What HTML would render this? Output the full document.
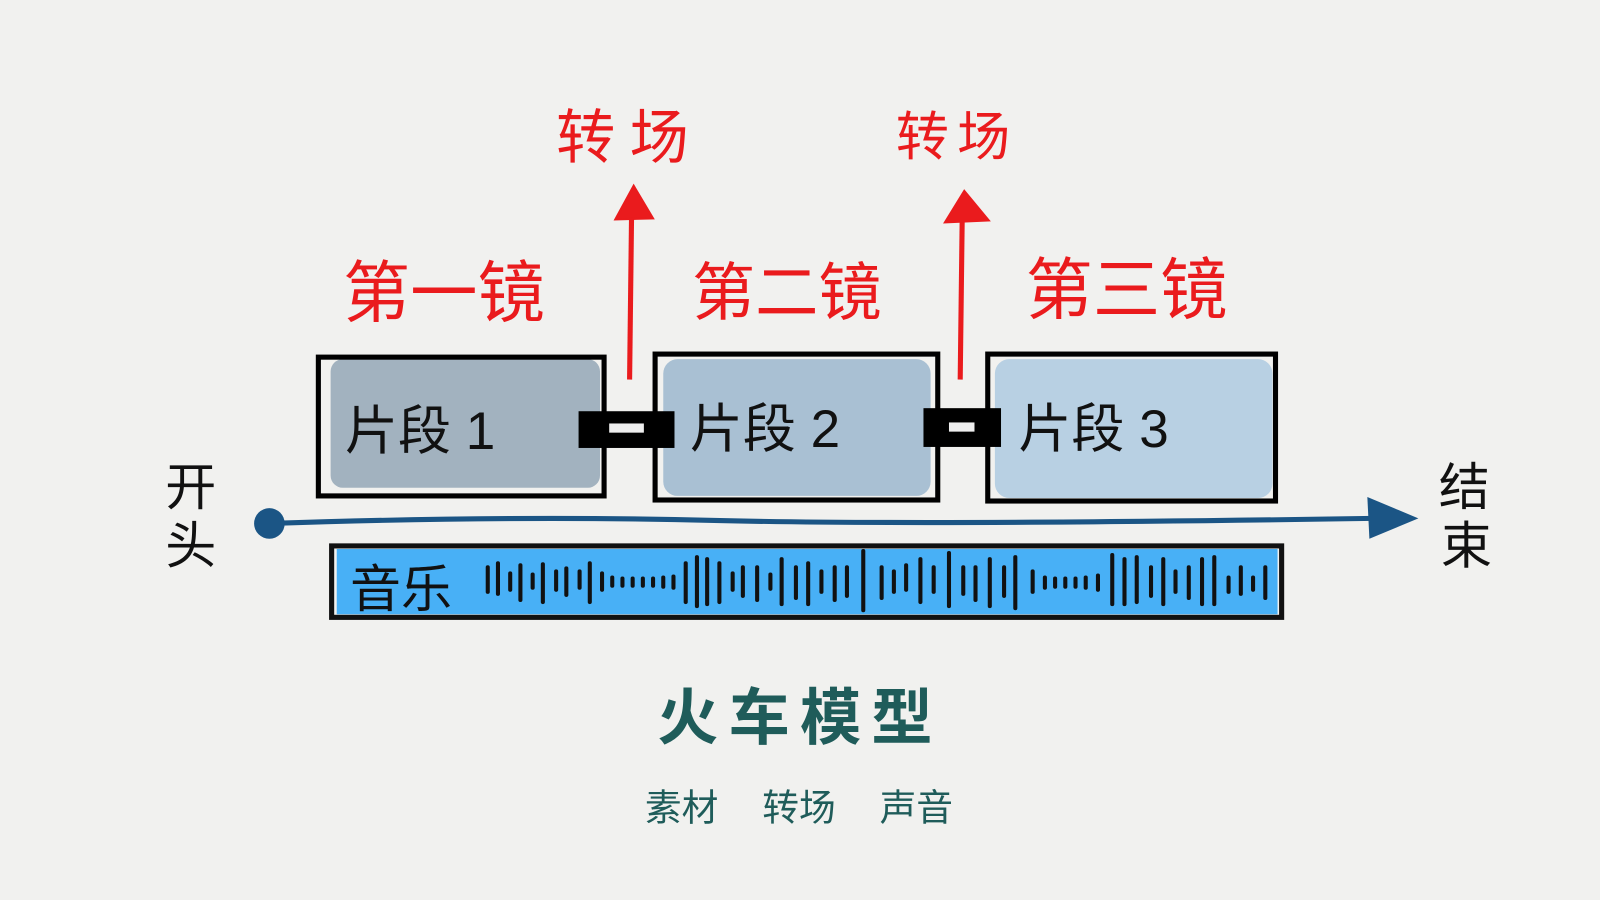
<!DOCTYPE html>
<html><head><meta charset="utf-8"><style>
html,body{margin:0;padding:0;background:#f1f1ef;}
svg{display:block}
text{font-family:"Liberation Sans","Noto Sans CJK SC",sans-serif;}
</style></head><body>
<svg width="1600" height="900" viewBox="0 0 1568 882" preserveAspectRatio="none" xmlns="http://www.w3.org/2000/svg">
<rect width="1568" height="882" fill="#f1f1ef"/>
<g stroke="#ea1b1d" stroke-width="5" fill="#ea1b1d">
<line x1="617" y1="372" x2="619" y2="205"/>
<polygon points="603,215 621,182 640,214" stroke-width="2"/>
<line x1="941" y1="372" x2="943" y2="210"/>
<polygon points="926,218 945,187 969,216" stroke-width="2"/>
</g>
<g fill="#ea1b1d">
<text x="545" y="155" font-size="58" letter-spacing="14">转场</text>
<text x="878" y="152" font-size="52" letter-spacing="8">转场</text>
<text x="336" y="310" font-size="66">第一镜</text>
<text x="678" y="308" font-size="62">第二镜</text>
<text x="1005" y="307" font-size="66">第三镜</text>
</g>
<rect x="324" y="352" width="264" height="126" rx="12" fill="#a2b2bf"/>
<rect x="312" y="350" width="280" height="136" fill="none" stroke="#000" stroke-width="5"/>
<rect x="650" y="352" width="262" height="134" rx="14" fill="#a9c0d3"/>
<rect x="642" y="347" width="277" height="143" fill="none" stroke="#000" stroke-width="5"/>
<rect x="975" y="352" width="272" height="136" rx="14" fill="#b8d0e3"/>
<rect x="968" y="347" width="282" height="144" fill="none" stroke="#000" stroke-width="5"/>
<rect x="567" y="403" width="94" height="36" fill="#000"/>
<rect x="597" y="415" width="34" height="9" fill="#eee"/>
<rect x="905" y="400" width="76" height="38" fill="#000"/>
<rect x="930" y="414" width="25" height="9" fill="#eee"/>
<g font-size="52" fill="#111">
<text x="338" y="440">片段 1</text>
<text x="676" y="438">片段 2</text>
<text x="998" y="438">片段 3</text>
</g>
<path d="M265,513 Q500,505 700,510 T1345,508" stroke="#1b5585" stroke-width="5" fill="none"/>
<circle cx="264" cy="513" r="15" fill="#1b5585"/>
<polygon points="1340,487 1390,508 1342,528" fill="#1b5585"/>
<g font-size="50" fill="#111">
<text x="162" y="495">开</text><text x="162" y="552">头</text>
<text x="1410" y="495">结</text><text x="1412" y="552">束</text>
</g>
<rect x="330" y="538" width="922" height="64" fill="#48b0f6"/>
<rect x="325" y="535" width="931" height="70" fill="none" stroke="#111" stroke-width="5"/>
<text x="343" y="595" font-size="50" fill="#111">音乐</text>
<path stroke="#111" stroke-width="4" fill="none" stroke-linecap="round" d="
M478,556V580 M488,552V582 M500,562V578 M510,554V588 M522,563V576 M532,553V590 M545,560V578 M555,557V583 M568,560V576 M578,552V590
M590,562V578 M600,566V574 M610,567V574 M620,567V574 M630,567V574 M640,567V574 M650,566V575 M660,565V576
M672,552V590 M683,546V594 M693,548V592 M705,552V590 M718,562V578 M728,556V584 M742,556V588 M755,563V577 M766,548V592
M780,556V586 M792,552V592 M805,560V580 M818,556V588 M830,556V584 M846,540V598
M864,556V586 M876,560V580 M888,554V578 M902,548V590 M915,556V580 M930,542V594 M944,556V582 M956,556V588 M970,548V594 M984,556V584
M995,546V596 M1012,560V580 M1024,566V576 M1034,567V575 M1044,567V575 M1054,567V575 M1064,566V576 M1076,564V578
M1090,544V592 M1102,548V592 M1114,546V590 M1128,556V584 M1140,548V592 M1152,560V580 M1165,556V586 M1178,548V592 M1190,546V592
M1204,566V580 M1216,556V582 M1228,566V578 M1240,556V586"/>
<text x="784" y="724" font-size="60" font-weight="bold" fill="#1f5c5a" text-anchor="middle" letter-spacing="10">火车模型</text>
<g font-size="36" fill="#1f5c5a">
<text x="632" y="804">素材</text>
<text x="747" y="804">转场</text>
<text x="862" y="804">声音</text>
</g>
</svg>
</body></html>
